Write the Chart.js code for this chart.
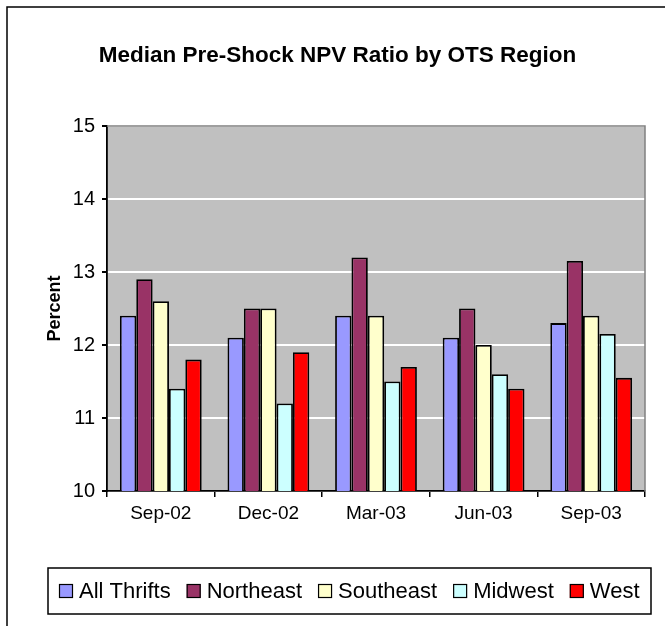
<!DOCTYPE html>
<html>
<head>
<meta charset="utf-8">
<script src="https://cdn.jsdelivr.net/npm/chart.js@4"></script>
<style>
  html, body { margin: 0; padding: 0; background: #fff; }
  canvas { display: block; }
</style>
</head>
<body>
<canvas id="chart" width="665" height="626"></canvas>
<script>
const quarters = ['Sep-02', 'Dec-02', 'Mar-03', 'Jun-03', 'Sep-03'];
const allThrifts = [12.4, 12.1, 12.4, 12.1, 12.3];
const northeast = [12.9, 12.5, 13.2, 12.5, 13.15];
const southeast = [12.6, 12.5, 12.4, 12.0, 12.4];
const midwest = [11.4, 11.2, 11.5, 11.6, 12.15];
const west = [11.8, 11.9, 11.7, 11.4, 11.55];
const yTicks = [10, 11, 12, 13, 14, 15];

const FONT = "'Liberation Sans', Arial, sans-serif";
Chart.defaults.color = '#000';
Chart.defaults.font.family = FONT;

// grey plot background, grey frame on top/right, outer chart frame and boxed legend
const excelLook = {
  id: 'excelLook',
  beforeDraw(chart) {
    const { ctx, chartArea: a } = chart;
    ctx.save();
    ctx.fillStyle = '#c0c0c0';
    ctx.fillRect(a.left, a.top, a.right - a.left, a.bottom - a.top);
    ctx.restore();
  },
  beforeDatasetsDraw(chart) {
    const { ctx, chartArea: a } = chart;
    ctx.save();
    ctx.strokeStyle = '#808080';
    ctx.lineWidth = 1.5;
    ctx.beginPath();
    ctx.moveTo(a.left, a.top);
    ctx.lineTo(a.right, a.top);
    ctx.lineTo(a.right, a.bottom);
    ctx.stroke();
    ctx.restore();
  },
  afterDraw(chart) {
    const { ctx } = chart;
    ctx.save();
    ctx.strokeStyle = '#000';
    ctx.lineWidth = 1.5;
    ctx.beginPath();
    ctx.moveTo(665, 7);
    ctx.lineTo(7, 7);
    ctx.lineTo(7, 626);
    ctx.stroke();

    // legend
    ctx.strokeRect(48, 568, 603, 46);
    ctx.font = '22px ' + FONT;
    ctx.textBaseline = 'alphabetic';
    let x = 59;
    chart.data.datasets.forEach((ds) => {
      ctx.fillStyle = ds.backgroundColor;
      ctx.fillRect(x, 584, 14, 14);
      ctx.lineWidth = 1.2;
      ctx.strokeRect(x + 0.5, 584.5, 13, 13);
      ctx.fillStyle = '#000';
      ctx.fillText(ds.label, x + 20, 598);
      x += 20 + ctx.measureText(ds.label).width + 16;
    });
    ctx.restore();
  },
};

const series = [
  { label: 'All Thrifts', data: allThrifts, color: '#9999ff' },
  { label: 'Northeast', data: northeast, color: '#993366' },
  { label: 'Southeast', data: southeast, color: '#ffffcc' },
  { label: 'Midwest', data: midwest, color: '#ccffff' },
  { label: 'West', data: west, color: '#ff0000' },
];

new Chart(document.getElementById('chart'), {
  type: 'bar',
  data: {
    labels: quarters,
    datasets: series.map((s) => ({
      label: s.label,
      data: s.data,
      backgroundColor: s.color,
      borderColor: '#000',
      borderWidth: 1.8,
      barPercentage: 1,
      categoryPercentage: 0.76,
    })),
  },
  options: {
    responsive: false,
    animation: false,
    layout: { padding: { top: 0, left: 30, right: 20, bottom: 95 } },
    plugins: {
      legend: { display: false },
      tooltip: { enabled: false },
      title: {
        display: true,
        text: 'Median Pre-Shock NPV Ratio by OTS Region',
        color: '#000',
        font: { size: 22.5, weight: 'bold', family: FONT },
        padding: { top: 42, bottom: 57 },
      },
    },
    scales: {
      x: {
        offset: true,
        grid: { offset: true, drawOnChartArea: false, drawTicks: true, tickLength: 6, tickColor: '#000', lineWidth: 1.5 },
        border: { color: '#000', width: 1.8 },
        ticks: { padding: 5, font: { size: 19, family: FONT }, color: '#000' },
        afterFit: (scale) => { scale.height = 40; },
      },
      y: {
        min: 10,
        max: 15,
        afterBuildTicks: (scale) => { scale.ticks = yTicks.map((v) => ({ value: v })); },
        grid: { color: '#ffffff', lineWidth: 2, tickLength: 5, tickColor: '#000' },
        border: { color: '#000', width: 1.8 },
        ticks: { padding: 7, font: { size: 20, family: FONT }, color: '#000' },
        title: {
          display: true,
          text: 'Percent',
          color: '#000',
          font: { size: 18, weight: 'bold', family: FONT },
          padding: { top: 14, bottom: 0 },
        },
        afterFit: (scale) => { scale.width = 77; },
      },
    },
  },
  plugins: [excelLook],
});
</script>
</body>
</html>
